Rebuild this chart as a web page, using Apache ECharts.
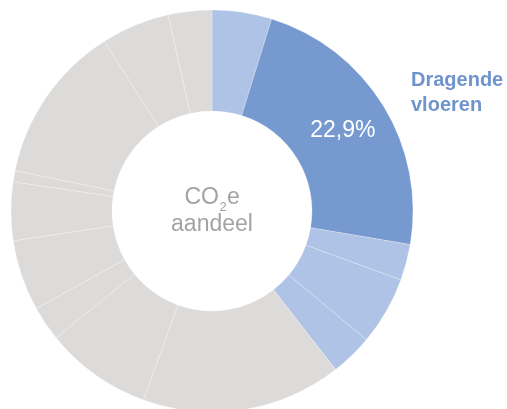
<!DOCTYPE html>
<html>
<head>
<meta charset="utf-8">
<script src="https://cdn.jsdelivr.net/npm/echarts@6/dist/echarts.min.js"></script>
<style>
  html, body { margin: 0; padding: 0; background: #fff; }
  #chart { width: 507px; height: 409px; }
</style>
</head>
<body>
<div id="chart"></div>
<script>
// CO2e share per building element, clockwise from the top
const categories = [
  'Fundering', 'Dragende vloeren', 'Kolommen', 'Balken', 'Dragende wanden',
  'Gevels', 'Binnenwanden', 'Trappen', 'Daken', 'Plafonds',
  'Afwerking', 'Installaties', 'Terrein', 'Overig'
];
const shares = [4.8, 22.9, 2.9, 5.5, 3.4, 16.1, 8.6, 2.8, 5.7, 4.7, 0.9, 12.8, 5.5, 3.5];
// colour group per slice: 'focus' = highlighted element, 'group' = related elements, 'rest' = others
const groups = ['group', 'focus', 'group', 'group', 'group', 'rest', 'rest', 'rest', 'rest', 'rest', 'rest', 'rest', 'rest', 'rest'];
const highlighted = 'Dragende vloeren';

const palette = { focus: '#7699cf', group: '#aec3e5', rest: '#dcdbda' };
const FONT = '"Liberation Sans", Arial, sans-serif';
const centerGrey = '#a3a3a3';

const chart = echarts.init(document.getElementById('chart'), null, { renderer: 'canvas' });

const data = categories.map((name, i) => ({
  name,
  value: shares[i],
  itemStyle: { color: palette[groups[i]] },
  label: { show: name === highlighted }
}));

// centre caption "CO₂e aandeel", laid out piece by piece so the 2 sits as a subscript
const cx = 212, cy = 211;
const line1 = cy - 13.5, line2 = cy + 13.5;

chart.setOption({
  animation: false,
  series: [{
    type: 'pie',
    center: [cx, cy],
    radius: [100, 201],
    startAngle: 90,
    clockwise: true,
    avoidLabelOverlap: false,
    silent: true,
    itemStyle: { borderColor: 'rgba(255,255,255,0.7)', borderWidth: 0.35 },
    label: {
      show: false,
      position: 'inside',
      color: '#ffffff',
      fontFamily: FONT,
      fontSize: 23,
      formatter: p => p.value.toFixed(1).replace('.', ',') + '%'
    },
    labelLine: { show: false },
    data
  }],
  graphic: [
    {
      type: 'text',
      left: 411,
      top: 68,
      style: {
        text: 'Dragende\nvloeren',
        fill: '#6f94cd',
        font: 'bold 20px ' + FONT,
        lineHeight: 25
      }
    },
    {
      type: 'text', x: cx + 7, y: line1,
      style: { text: 'CO', align: 'right', verticalAlign: 'middle', fill: centerGrey, font: '23px ' + FONT }
    },
    {
      type: 'text', x: cx + 7.5, y: line1 + 10,
      style: { text: '2', align: 'left', verticalAlign: 'middle', fill: centerGrey, font: '13px ' + FONT }
    },
    {
      type: 'text', x: cx + 15, y: line1,
      style: { text: 'e', align: 'left', verticalAlign: 'middle', fill: centerGrey, font: '23px ' + FONT }
    },
    {
      type: 'text', x: cx, y: line2,
      style: { text: 'aandeel', align: 'center', verticalAlign: 'middle', fill: centerGrey, font: '23px ' + FONT }
    }
  ]
});
</script>
</body>
</html>
